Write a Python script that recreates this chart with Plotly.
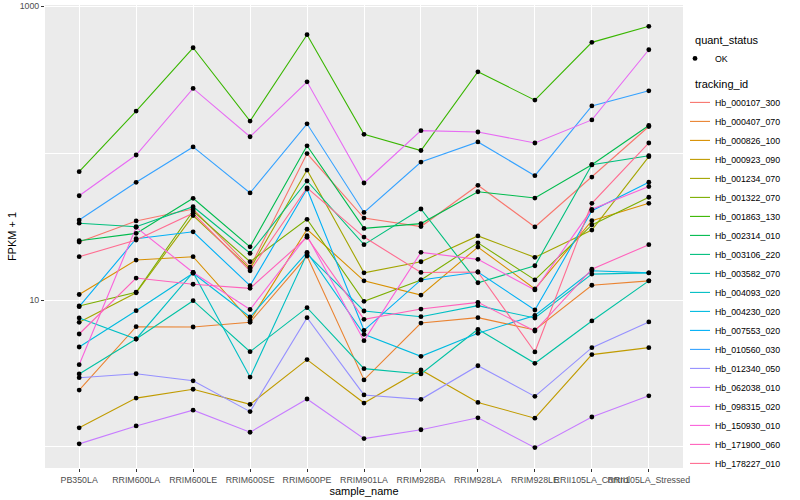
import plotly.graph_objects as go

samples = ["PB350LA", "RRIM600LA", "RRIM600LE", "RRIM600SE", "RRIM600PE", "RRIM901LA",
           "RRIM928BA", "RRIM928LA", "RRIM928LE", "RRII105LA_Control", "RRII105LA_Stressed"]

# FPKM + 1 values per gene
Hb_000107_300 = [24.8, 34.5, 41.6, 16.7, 99.2, 36.1, 31.6, 60.3, 31.4, 68.6, 151.5]
Hb_000407_070 = [2.44, 6.58, 6.55, 7.05, 19.9, 2.86, 6.97, 7.58, 6.25, 12.6, 13.5]
Hb_000826_100 = [10.9, 18.7, 19.7, 7.23, 30.3, 13.5, 10.8, 22.9, 11.9, 34.6, 45.5]
Hb_000923_090 = [1.35, 2.15, 2.47, 1.95, 3.93, 1.99, 3.34, 2.01, 1.57, 4.25, 4.74]
Hb_001234_070 = [7.05, 11.2, 37.5, 16.3, 76.6, 15.3, 18.2, 27.3, 19.5, 29.9, 94.4]
Hb_001322_070 = [9.1, 11.3, 40.3, 18.2, 35.4, 9.8, 13.7, 24.5, 13.7, 32.4, 50.0]
Hb_001863_130 = [74.6, 193, 520, 165, 638, 134, 104, 357, 229, 566, 728]
Hb_002314_010 = [25.3, 28.4, 49.2, 23.0, 112, 30.7, 33.1, 54.5, 49.4, 83.2, 154]
Hb_003106_220 = [33.3, 31.5, 43.1, 20.8, 64.5, 23.8, 41.6, 13.1, 17.1, 83.2, 95.9]
Hb_003582_070 = [3.14, 5.43, 9.89, 4.45, 8.87, 3.41, 3.14, 6.32, 3.71, 7.20, 13.5]
Hb_004093_020 = [7.54, 5.43, 15.4, 2.99, 20.6, 8.42, 7.70, 9.15, 7.54, 15.0, 15.3]
Hb_004230_020 = [4.79, 8.46, 15.2, 7.66, 21.1, 5.84, 4.14, 5.94, 7.85, 15.8, 15.3]
Hb_007553_020 = [9.0, 26.1, 29.1, 12.5, 56.9, 6.22, 13.7, 15.5, 8.55, 40.5, 63.3]
Hb_010560_030 = [35.0, 63.2, 110, 53.5, 158, 39.4, 86.8, 119, 70.1, 209, 265]
Hb_012340_050 = [2.96, 3.15, 2.82, 1.74, 7.58, 2.26, 2.11, 3.57, 2.21, 4.74, 7.09]
Hb_062038_010 = [1.05, 1.39, 1.78, 1.26, 2.12, 1.14, 1.31, 1.58, 0.99, 1.60, 2.23]
Hb_098315_020 = [51.2, 96.9, 275, 129, 305, 62.5, 142, 139, 117, 168, 504]
Hb_150930_010 = [3.63, 31.2, 15.4, 8.62, 27.4, 5.29, 21.1, 18.9, 11.7, 41.4, 59.2]
Hb_171900_060 = [5.87, 14.1, 12.8, 12.0, 26.7, 7.39, 8.68, 9.64, 6.15, 16.2, 23.8]
Hb_178227_010 = [19.7, 25.6, 38.9, 15.8, 58.0, 26.8, 15.4, 15.5, 4.43, 45.5, 117]

tracking_ids = ["Hb_000107_300", "Hb_000407_070", "Hb_000826_100", "Hb_000923_090",
                "Hb_001234_070", "Hb_001322_070", "Hb_001863_130", "Hb_002314_010",
                "Hb_003106_220", "Hb_003582_070", "Hb_004093_020", "Hb_004230_020",
                "Hb_007553_020", "Hb_010560_030", "Hb_012340_050", "Hb_062038_010",
                "Hb_098315_020", "Hb_150930_010", "Hb_171900_060", "Hb_178227_010"]
series = [Hb_000107_300, Hb_000407_070, Hb_000826_100, Hb_000923_090, Hb_001234_070,
          Hb_001322_070, Hb_001863_130, Hb_002314_010, Hb_003106_220, Hb_003582_070,
          Hb_004093_020, Hb_004230_020, Hb_007553_020, Hb_010560_030, Hb_012340_050,
          Hb_062038_010, Hb_098315_020, Hb_150930_010, Hb_171900_060, Hb_178227_010]
colors = ["#F8766D", "#EA8331", "#D89000", "#C09B00", "#A3A500", "#7CAE00", "#39B600",
          "#00BB4E", "#00BF7D", "#00C1A3", "#00BFC4", "#00BAE0", "#00B0F6", "#35A2FF",
          "#9590FF", "#C77CFF", "#E76BF3", "#FA62DB", "#FF62BC", "#FF6C91"]

FONT = "Liberation Sans, Arial, sans-serif"
fig = go.Figure()
for i, (tid, col, vals) in enumerate(zip(tracking_ids, colors, series)):
    fig.add_trace(go.Scatter(x=samples, y=vals, mode="lines", name=tid,
                             line=dict(color=col, width=1.1),
                             legendgroup="tid", legendrank=10 + i,
                             legendgrouptitle=dict(text="tracking_id", font=dict(size=11))))

all_x = [s for vals in series for s in samples]
all_y = [v for vals in series for v in vals]
fig.add_trace(go.Scatter(x=all_x, y=all_y, mode="markers", name="OK",
                         marker=dict(color="black", size=4.8),
                         legendgroup="qs", legendrank=1,
                         legendgrouptitle=dict(text="quant_status", font=dict(size=11))))

fig.update_layout(
    width=800, height=500,
    margin=dict(l=45, r=117, t=5, b=32, autoexpand=False),
    paper_bgcolor="white", plot_bgcolor="#EBEBEB",
    font=dict(family=FONT, size=9, color="black"),
    xaxis=dict(type="category", range=[-0.6, 10.6], showgrid=True, gridcolor="white",
               gridwidth=1.1, ticks="outside", ticklen=3, tickcolor="#333333",
               tickangle=0, tickfont=dict(size=8.8, color="#4D4D4D"), zeroline=False,
               showline=False, automargin=False,
               title=dict(text="sample_name", font=dict(size=11), standoff=0)),
    yaxis=dict(type="log", range=[-0.143, 3.007], tickvals=[10, 1000],
               ticktext=["10", "1000"], showgrid=True, gridcolor="white", gridwidth=1.1,
               ticks="outside", ticklen=3, tickcolor="#333333",
               tickfont=dict(size=8.8, color="#4D4D4D"), zeroline=False, showline=False,
               automargin=False,
               minor=dict(tickvals=[1, 100], showgrid=True, gridcolor="white",
                          gridwidth=0.55, ticks=""),
               title=dict(text="FPKM + 1", font=dict(size=11), standoff=0)),
    showlegend=True,
    legend=dict(x=1.011, xanchor="left", y=0.957, yanchor="top", font=dict(size=8.8),
                itemwidth=30, indentation=-15, traceorder="grouped", tracegroupgap=6,
                bgcolor="rgba(0,0,0,0)"),
)

fig.write_html("out.html", config={"displayModeBar": False},
               post_script="document.body.style.margin='0';")
